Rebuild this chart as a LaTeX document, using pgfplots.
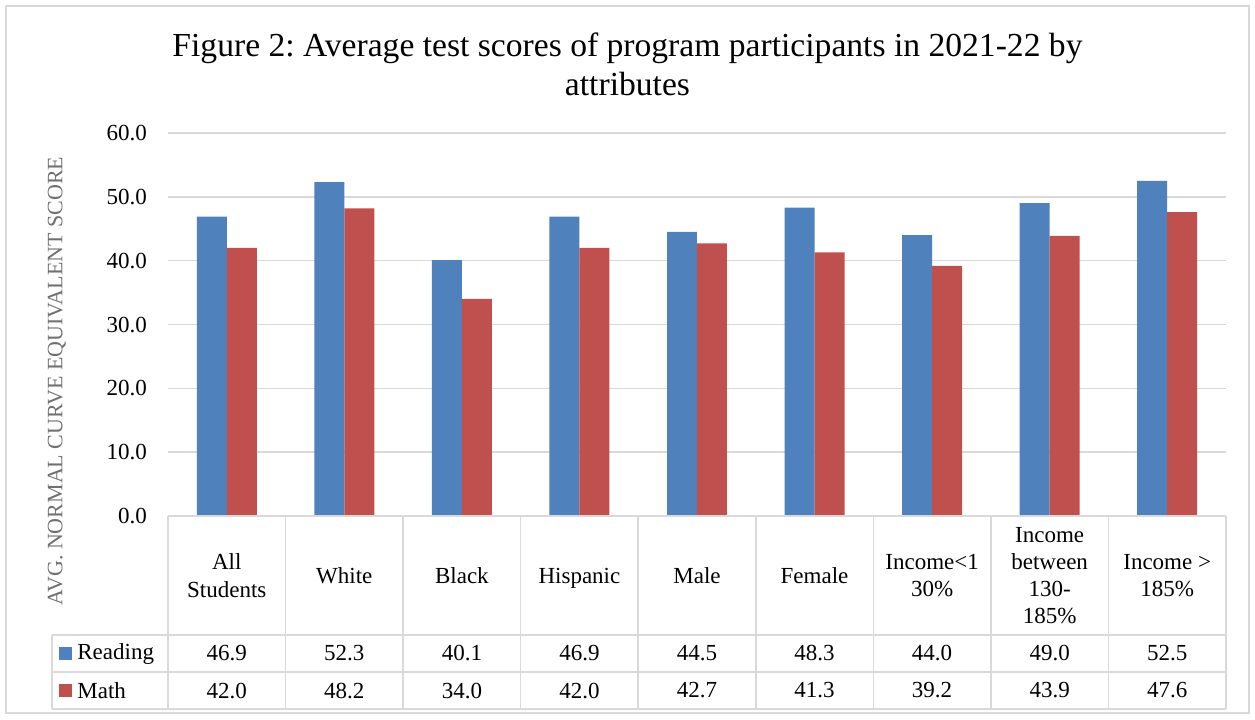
\documentclass[border=0pt]{standalone}
\usepackage{pgfplots}
\usepackage{pgfplotstable}
\pgfplotsset{compat=1.18}
\usepackage{fontspec}
\setmainfont{Liberation Serif}
\frenchspacing

\definecolor{rblue}{HTML}{4F81BD}
\definecolor{rred}{HTML}{C0504D}
\definecolor{gridgray}{HTML}{D9D9D9}
\definecolor{labgray}{HTML}{707070}

% scores by attribute
\pgfplotstableread{
x reading math
0 46.9 42.0
1 52.3 48.2
2 40.1 34.0
3 46.9 42.0
4 44.5 42.7
5 48.3 41.3
6 44.0 39.2
7 49.0 43.9
8 52.5 47.6
}\scores

\newcommand{\lbl}{\fontsize{11.5}{13.6}\selectfont}

\begin{document}
\begin{tikzpicture}
\useasboundingbox (0,0) rectangle (627.5pt,-359.5pt);
\draw[gridgray, line width=0.75pt] (3pt,-3pt) rectangle (624.5pt,-356.5pt);
\node[font=\fontsize{16.8}{19.5}\selectfont, align=center] at (313.75pt,-32pt)
  {Figure 2: Average test scores of program participants in 2021-22 by\\attributes};

\begin{axis}[
  at={(84pt,-258pt)}, anchor=south west,
  scale only axis, width=529pt, height=191.5pt,
  xmin=-0.5, xmax=8.5, ymin=0, ymax=60,
  clip=false,
  axis line style={draw=none},
  tick style={draw=none},
  ytick={0,10,...,60},
  ymajorgrids, grid style={gridgray, line width=0.75pt},
  yticklabel style={/pgf/number format/fixed, /pgf/number format/fixed zerofill,
    /pgf/number format/precision=1, xshift=-7pt, font=\lbl},
  /pgf/number format/assume math mode=true,
  xtick={0,...,8},
  xticklabels={All\\Students, White, Black, Hispanic, Male, Female,
    Income<1\\30\%, Income\\between\\130-\\185\%, Income >\\185\%},
  xticklabel style={anchor=center, yshift=-29.75pt, align=center, font=\lbl,
    text depth=0pt},
  ylabel={AVG. NORMAL CURVE EQUIVALENT SCORE},
  ylabel style={at={(axis description cs:-0.105,0.352)}, anchor=center,
    font=\fontsize{11}{13}\selectfont, text=labgray},
  every node near coord/.append style={anchor=center, font=\lbl, text=black},
]
\addplot[ybar, bar width=0.255, bar shift=-0.1275, fill=rblue, draw=none]
  table[x=x, y=reading] {\scores};
\addplot[ybar, bar width=0.255, bar shift=0.1275, fill=rred, draw=none]
  table[x=x, y=math] {\scores};
% data table rows
\addplot[draw=none, mark=none, point meta=explicit,
  nodes near coords={\pgfmathprintnumber[fixed,fixed zerofill,precision=1]{\pgfplotspointmeta}}]
  table[x=x, y expr=-21.54, meta=reading] {\scores};
\addplot[draw=none, mark=none, point meta=explicit,
  nodes near coords={\pgfmathprintnumber[fixed,fixed zerofill,precision=1]{\pgfplotspointmeta}}]
  table[x=x, y expr=-27.34, meta=math] {\scores};
\end{axis}

% table grid
\begin{scope}[gridgray, line width=0.75pt]
\draw (84pt,-258pt) -- (613pt,-258pt);
\draw (26pt,-317.5pt) -- (613pt,-317.5pt);
\draw (26pt,-336pt) -- (613pt,-336pt);
\draw (26pt,-354.5pt) -- (613pt,-354.5pt);
\draw (26pt,-317.5pt) -- (26pt,-354.5pt);
\foreach \k in {0,...,9}
  \draw ({84pt+\k*58.7778pt},-258pt) -- ({84pt+\k*58.7778pt},-354.5pt);
\end{scope}
% legend keys
\fill[rblue] (29.5pt,-323.5pt) rectangle (36pt,-330pt);
\node[anchor=west, font=\lbl, inner sep=0pt] at (38.5pt,-326.75pt) {Reading};
\fill[rred] (29.5pt,-342pt) rectangle (36pt,-348.5pt);
\node[anchor=west, font=\lbl, inner sep=0pt] at (38.5pt,-345.25pt) {Math};
\end{tikzpicture}
\end{document}
